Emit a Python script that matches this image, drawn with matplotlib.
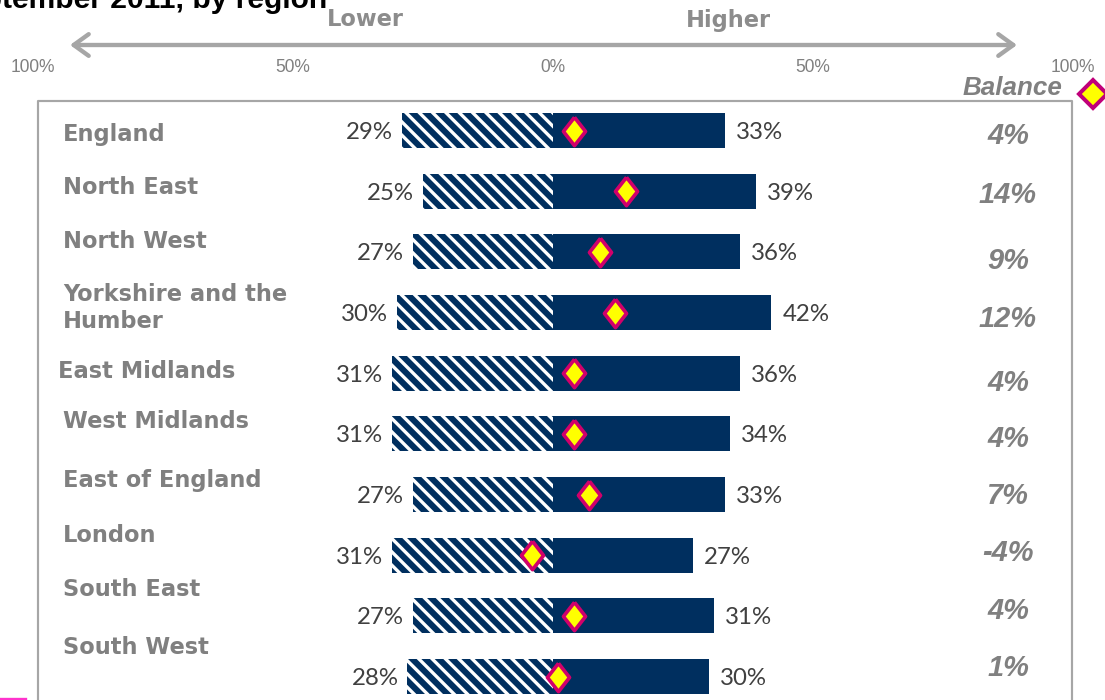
import matplotlib
matplotlib.use('Agg')
import matplotlib.pyplot as plt

# data
regions = ['England', 'North East', 'North West', 'Yorkshire and the\nHumber',
           'East Midlands', 'West Midlands', 'East of England', 'London',
           'South East', 'South West']
lower = [29, 25, 27, 30, 31, 31, 27, 31, 27, 28]
higher = [33, 39, 36, 42, 36, 34, 33, 27, 31, 30]
balance = [4, 14, 9, 12, 4, 4, 7, -4, 4, 1]
tick_vals = [-100, -50, 0, 50, 100]
tick_labels = ['100%', '50%', '0%', '50%', '100%']

# layout (pixel rows of the original picture)
label_x = [63, 63, 63, 63, 58, 63, 63, 63, 63, 63]
label_y = [134, 187, 241, 308, 372, 421, 481, 536, 590, 648]
bal_y = [136, 195, 261, 319, 383, 439, 496, 553, 611, 668]

NAVY = '#002f5f'
GREY = '#808080'
DIAMOND = [(0, 1), (0.78, 0), (0, -1), (-0.78, 0), (0, 1)]
HATCH = chr(92) * 3  # backslash stripes, dense

DPI = 120
plt.rcParams['hatch.linewidth'] = 2.0
fig = plt.figure(figsize=(1105 / DPI, 700 / DPI), dpi=DPI)
ax = fig.add_axes([0, 0, 1, 1])
X0, PX = 553, 5.2  # pixel of 0% and pixels per percent
ax.set_xlim(-X0 / PX, (1105 - X0) / PX)
ax.set_ylim(700, 0)
ax.axis('off')


def px(x):
    return (x - X0) / PX


rows = [130.5 + 60.67 * i for i in range(len(regions))]

ax.barh(rows, [-v for v in lower], height=35, color=NAVY, edgecolor='white',
        hatch=HATCH, linewidth=0)
ax.barh(rows, higher, height=35, color=NAVY, linewidth=0)
ax.plot(balance, rows, linestyle='none', marker=DIAMOND, ms=17,
        mfc='#ffff00', mec='#d1006b', mew=2.2, zorder=5)

for i, r in enumerate(rows):
    ax.text(-lower[i] - 1.7, r + 2, f'{lower[i]}%', ha='right', va='center',
            fontsize=14.4, family='Lato', color='#404040')
    ax.text(higher[i] + 2.1, r + 2, f'{higher[i]}%', ha='left', va='center',
            fontsize=14.4, family='Lato', color='#404040')
    ax.text(px(label_x[i]), label_y[i], regions[i], ha='left', va='center',
            fontsize=13.5, fontweight='bold', family='DejaVu Sans', color=GREY,
            linespacing=1.25)
    ax.text(px(1008), bal_y[i], f'{balance[i]}%', ha='center', va='center',
            fontsize=17.4, fontweight='bold', style='italic',
            family='Liberation Sans', color=GREY)

# frame
ax.plot([px(38), px(38), px(1072), px(1072)], [705, 101, 101, 705],
        color='#a6a6a6', lw=1.3)

# top scale
ax.annotate('', xy=(px(70), 45), xytext=(px(1017), 45),
            arrowprops=dict(arrowstyle='<->,head_length=0.9,head_width=0.65',
                            color='#a6a6a6', lw=2.6, shrinkA=0, shrinkB=0))
ax.text(px(365), 20, 'Lower', ha='center', va='center', fontsize=13.5,
        fontweight='bold', family='DejaVu Sans', color='#8c8c8c')
ax.text(px(728), 20, 'Higher', ha='center', va='center', fontsize=13.5,
        fontweight='bold', family='DejaVu Sans', color='#8c8c8c')
for v, t in zip(tick_vals, tick_labels):
    ax.text(v, 67, t, ha='center', va='center', fontsize=10.5,
            family='Liberation Sans', color=GREY)

# balance legend
ax.text(px(1012), 88, 'Balance', ha='center', va='center', fontsize=15.6,
        fontweight='bold', style='italic', family='Liberation Sans', color=GREY)
ax.plot([px(1093)], [94], linestyle='none', marker='D', ms=12,
        mfc='#ffff00', mec='#c0007a', mew=2.4)

# title (cut off at the top of the picture, as in the source)
ax.text(px(327), 8, 'September 2011, by region', ha='right', va='baseline',
        fontsize=18, fontweight='bold', family='Liberation Sans', color='black')

ax.plot([px(0), px(25)], [699, 699], color='#ff33cc', lw=2)

fig.savefig('out.png', dpi=DPI)
